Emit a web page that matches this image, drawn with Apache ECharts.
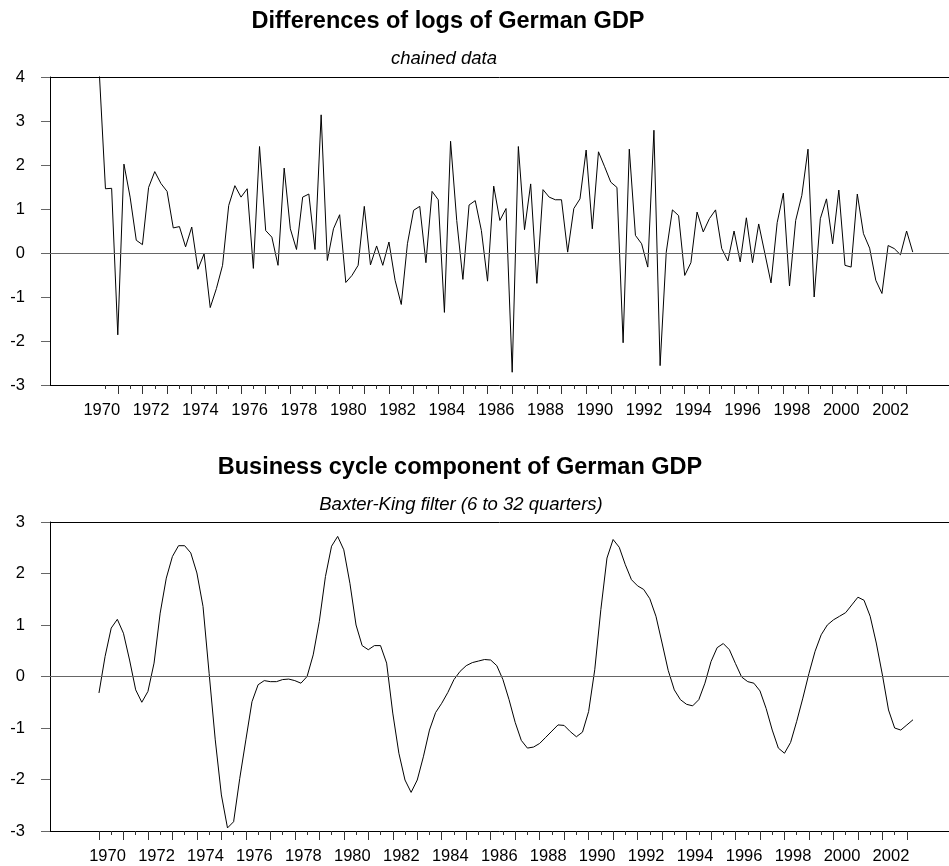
<!DOCTYPE html>
<html>
<head>
<meta charset="utf-8">
<title>German GDP</title>
<script src="https://cdn.jsdelivr.net/npm/echarts@6/dist/echarts.min.js"></script>
<style>
html, body { margin: 0; padding: 0; background: #fff; }
#chart { width: 949px; height: 866px; }
</style>
</head>
<body>
<div id="chart"></div>
<script>
// quarterly series, start given as decimal year (Q1 = .00, Q2 = .25 ...)
var diffStart = 1970.25;
var cycleStart = 1970.0;

// differences of logs, 1970Q2 - 2003Q2
var diffValues = [
    4.10, 1.46, 1.47, -1.86, 2.02, 1.27, 0.29, 0.19, 1.49, 1.85,
    1.58, 1.40, 0.57, 0.60, 0.14, 0.59, -0.37, -0.02, -1.24, -0.81,
    -0.28, 1.08, 1.53, 1.27, 1.46, -0.35, 2.42, 0.51, 0.36, -0.28,
    1.93, 0.55, 0.08, 1.27, 1.34, 0.08, 3.14, -0.17, 0.55, 0.87,
    -0.67, -0.51, -0.28, 1.06, -0.27, 0.16, -0.28, 0.25, -0.62, -1.17,
    0.21, 0.97, 1.06, -0.22, 1.40, 1.21, -1.35, 2.54, 0.74, -0.60,
    1.09, 1.19, 0.51, -0.64, 1.52, 0.74, 1.01, -2.71, 2.42, 0.53,
    1.57, -0.69, 1.44, 1.27, 1.21, 1.21, 0.02, 1.01, 1.23, 2.34,
    0.55, 2.30, 1.96, 1.61, 1.49, -2.04, 2.36, 0.40, 0.21, -0.32,
    2.79, -2.56, 0.02, 0.98, 0.85, -0.51, -0.22, 0.93, 0.48, 0.78,
    0.98, 0.10, -0.18, 0.50, -0.20, 0.80, -0.22, 0.66, -0.01, -0.68,
    0.69, 1.36, -0.75, 0.74, 1.31, 2.36, -1.00, 0.78, 1.23, 0.21,
    1.43, -0.28, -0.32, 1.34, 0.44, 0.11, -0.62, -0.92, 0.17, 0.10,
    -0.04, 0.50, 0.02
];

// Baxter-King cycle, 1970Q1 - 2003Q2
var cycleValues = [
    -0.32, 0.39, 0.94, 1.11, 0.84, 0.32, -0.26, -0.50, -0.29, 0.26,
    1.23, 1.91, 2.33, 2.54, 2.54, 2.40, 2.01, 1.36, 0.06, -1.23,
    -2.30, -2.94, -2.82, -1.98, -1.23, -0.49, -0.16, -0.08, -0.10, -0.10,
    -0.06, -0.05, -0.08, -0.13, 0.00, 0.42, 1.07, 1.94, 2.53, 2.72,
    2.46, 1.81, 1.00, 0.60, 0.52, 0.60, 0.60, 0.26, -0.71, -1.49,
    -2.01, -2.25, -2.01, -1.56, -1.04, -0.70, -0.52, -0.31, -0.06, 0.10,
    0.21, 0.27, 0.30, 0.33, 0.32, 0.21, -0.06, -0.45, -0.89, -1.24,
    -1.39, -1.37, -1.30, -1.18, -1.06, -0.94, -0.95, -1.07, -1.17, -1.08,
    -0.68, 0.13, 1.30, 2.30, 2.66, 2.51, 2.17, 1.88, 1.76, 1.69,
    1.51, 1.17, 0.65, 0.12, -0.26, -0.45, -0.54, -0.57, -0.45, -0.13,
    0.29, 0.56, 0.64, 0.52, 0.25, -0.01, -0.10, -0.13, -0.28, -0.62,
    -1.04, -1.39, -1.49, -1.28, -0.87, -0.42, 0.06, 0.49, 0.81, 1.00,
    1.10, 1.17, 1.24, 1.39, 1.54, 1.48, 1.17, 0.65, 0.03, -0.65,
    -1.00, -1.04, -0.94, -0.84
];

var yearLabels = [1970, 1972, 1974, 1976, 1978, 1980, 1982, 1984, 1986,
    1988, 1990, 1992, 1994, 1996, 1998, 2000, 2002];

var diffTitle = 'Differences of logs of German GDP';
var diffSub = 'chained data';
var cycleTitle = 'Business cycle component of German GDP';
var cycleSub = 'Baxter-King filter (6 to 32 quarters)';

var FONT = '"Liberation Sans", Arial, Helvetica, sans-serif';

function toPoints(start, values) {
    var pts = [];
    for (var i = 0; i < values.length; i++) {
        pts.push([start + i / 4, values[i]]);
    }
    return pts;
}

// half-year ticks inside the sample, split into year (long) and mid-year (short)
function tickValues(start, count) {
    var last = start + (count - 1) / 4;
    var longT = [], shortT = [];
    for (var t = Math.ceil(start * 2) / 2; t <= Math.floor(last * 2) / 2 + 1e-9; t += 0.5) {
        if (Math.abs(t - Math.round(t)) < 1e-6) longT.push(Math.round(t));
        else shortT.push(t);
    }
    return {long: longT, short: shortT, first: start, last: last};
}

function panelAxes(gridIndex, ticks) {
    var min = ticks.first - 2;
    var max = ticks.last + 1.47;
    var lineStyle = {color: '#000', width: 1};
    return [{
        type: 'value', gridIndex: gridIndex, position: 'bottom', min: min, max: max,
        axisLine: {show: true, onZero: false, lineStyle: lineStyle},
        axisTick: {show: true, length: 9, customValues: ticks.long, lineStyle: {color: '#333'}},
        axisLabel: {
            show: true, margin: 17, fontSize: 16.5, color: '#000', fontFamily: FONT,
            customValues: yearLabels.map(function (y) { return y + 0.35; }),
            formatter: function (v) { return String(Math.round(v - 0.35)); }
        },
        splitLine: {show: false}
    }, {
        type: 'value', gridIndex: gridIndex, position: 'bottom', min: min, max: max,
        axisLine: {show: false, onZero: false},
        axisTick: {show: true, length: 4, customValues: ticks.short, lineStyle: {color: '#333'}},
        axisLabel: {show: false},
        splitLine: {show: false}
    }, {
        type: 'value', gridIndex: gridIndex, position: 'top', min: min, max: max,
        axisLine: {show: true, onZero: false, lineStyle: lineStyle},
        axisTick: {show: false},
        axisLabel: {show: false},
        splitLine: {show: false}
    }];
}

function panelYAxis(gridIndex, min, max) {
    return {
        type: 'value', gridIndex: gridIndex, min: min, max: max, interval: 1,
        axisLine: {show: true, onZero: false, lineStyle: {color: '#000', width: 1}},
        axisTick: {show: true, length: 9, lineStyle: {color: '#666'}},
        axisLabel: {margin: 25, fontSize: 16.5, color: '#000', fontFamily: FONT},
        splitLine: {show: false}
    };
}

function lineSeries(xIndex, yIndex, points) {
    return {
        type: 'line', xAxisIndex: xIndex, yAxisIndex: yIndex, data: points,
        showSymbol: false, symbol: 'none', clip: true,
        lineStyle: {color: '#000', width: 1},
        markLine: {
            silent: true, symbol: 'none', label: {show: false},
            lineStyle: {color: '#666', type: 'solid', width: 1.2},
            data: [{yAxis: 0}]
        }
    };
}

function titleItem(text, left, top, size, bold) {
    return {
        text: text, left: left, top: top, textAlign: 'center', padding: 0,
        textStyle: {
            fontFamily: FONT, fontSize: size, color: '#000',
            fontWeight: bold ? 'bold' : 'normal', fontStyle: bold ? 'normal' : 'italic'
        }
    };
}

var chart = echarts.init(document.getElementById('chart'), null, {renderer: 'canvas'});

var diffTicks = tickValues(diffStart, diffValues.length);
var cycleTicks = tickValues(cycleStart, cycleValues.length);

var option = {
    animation: false,
    backgroundColor: '#fff',
    title: [
        titleItem(diffTitle, 448, 10, 23.5, true),
        titleItem(diffSub, 444, 49, 18.5, false),
        titleItem(cycleTitle, 460, 456, 23.5, true),
        titleItem(cycleSub, 461, 495, 18.5, false)
    ],
    grid: [
        {left: 50, right: 0, top: 77, height: 308},
        {left: 50, right: 0, top: 522, height: 309}
    ],
    xAxis: panelAxes(0, diffTicks).concat(panelAxes(1, cycleTicks)),
    yAxis: [panelYAxis(0, -3, 4), panelYAxis(1, -3, 3)],
    series: [
        lineSeries(0, 0, toPoints(diffStart, diffValues)),
        lineSeries(3, 1, toPoints(cycleStart, cycleValues))
    ]
};

chart.setOption(option);
</script>
</body>
</html>
